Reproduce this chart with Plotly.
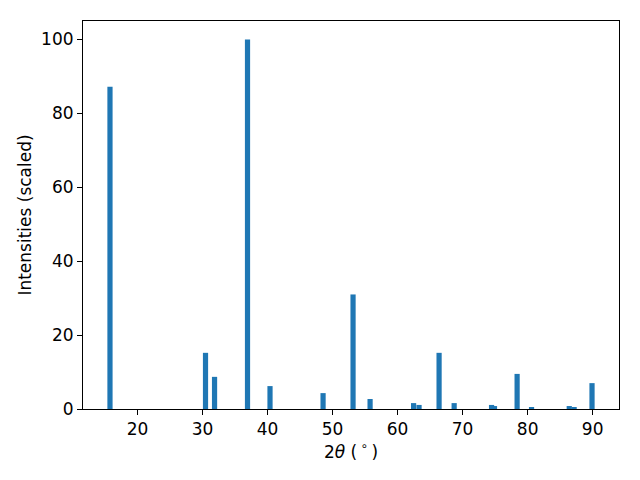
import plotly.graph_objects as go

two_theta = [15.77, 30.46, 31.85, 36.92, 40.38, 48.54, 53.15, 55.77, 62.46, 63.30,
             66.38, 68.70, 74.45, 74.90, 78.38, 80.60, 86.40, 87.15, 89.90]
intensity = [87.2, 15.2, 8.7, 100.0, 6.2, 4.3, 31.0, 2.7, 1.6, 1.1,
             15.2, 1.6, 1.1, 0.8, 9.5, 0.5, 0.8, 0.5, 7.0]
x_ticks = [20, 30, 40, 50, 60, 70, 80, 90]
y_ticks = [0, 20, 40, 60, 80, 100]

FS = 17

fig = go.Figure()
fig.add_trace(go.Bar(x=two_theta, y=intensity, width=0.8,
                     marker=dict(color="#1f77b4", line=dict(width=0))))

axis_common = dict(showline=True, linecolor="black", linewidth=1.1, mirror=True,
                   ticks="outside", ticklen=5, tickwidth=1.1, tickcolor="black",
                   showgrid=False, zeroline=False, automargin=False,
                   tickfont=dict(family="DejaVu Sans", size=FS, color="black"))

fig.update_layout(
    width=640, height=480,
    margin=dict(l=75, r=29, t=13, b=79),
    plot_bgcolor="white", paper_bgcolor="white",
    showlegend=False,
    font=dict(family="DejaVu Sans", size=FS, color="black"),
    xaxis=dict(range=[11.62, 94.05], tickvals=x_ticks,
               title=dict(text="2<i>θ</i> (\u2009<sup>∘</sup>\u2009)", standoff=6,
                          font=dict(family="DejaVu Sans", size=FS)),
               **axis_common),
    yaxis=dict(range=[0, 105], tickvals=y_ticks,
               title=dict(text="Intensities (scaled)", standoff=5,
                          font=dict(family="DejaVu Sans", size=FS)),
               **axis_common),
)

fig.write_html("out.html")
